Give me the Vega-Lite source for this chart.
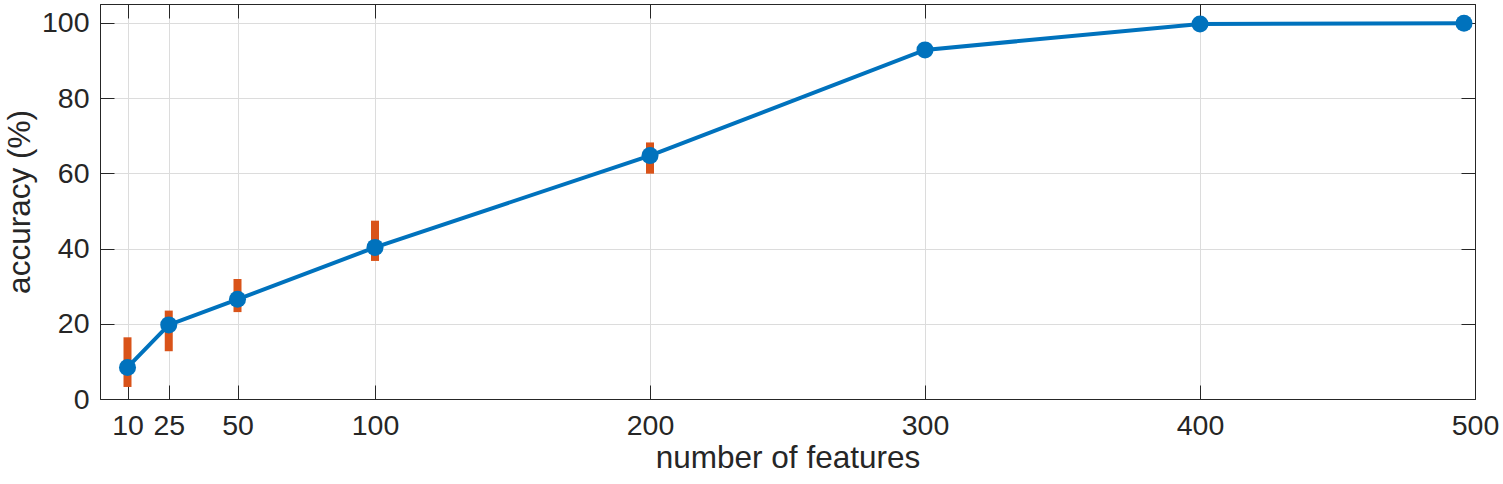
{
  "$schema": "https://vega.github.io/schema/vega-lite/v6.json",
  "autosize": {"type": "none"},
  "padding": {"left": 100, "top": 4, "right": 28, "bottom": 85},
  "width": 1375,
  "height": 395,
  "config": {
    "font": "Liberation Sans",
    "view": {"stroke": "#262626", "strokeWidth": 1},
    "axis": {
      "domainColor": "#262626",
      "tickColor": "#262626",
      "labelColor": "#262626",
      "titleColor": "#262626",
      "labelFont": "Liberation Sans",
      "titleFont": "Liberation Sans",
      "labelFontSize": 28.5,
      "titleFontSize": 31.5,
      "titleFontWeight": "normal",
      "gridColor": "#dcdcdc",
      "gridWidth": 1,
      "tickSize": -14
    }
  },
  "data": {
    "values": [
      {"features": 10, "accuracy": 8.4, "lo": 3.2, "hi": 16.4},
      {"features": 25, "accuracy": 19.7, "lo": 12.7, "hi": 23.5},
      {"features": 50, "accuracy": 26.5, "lo": 23.1, "hi": 31.9},
      {"features": 100, "accuracy": 40.3, "lo": 36.7, "hi": 47.4},
      {"features": 200, "accuracy": 64.7, "lo": 59.9, "hi": 68.2},
      {"features": 300, "accuracy": 92.8, "lo": 92.8, "hi": 92.8},
      {"features": 400, "accuracy": 99.7, "lo": 99.7, "hi": 99.7},
      {"features": 496, "accuracy": 99.9, "lo": 99.9, "hi": 99.9}
    ]
  },
  "layer": [
    {
      "mark": {"type": "rule", "color": "#D95319", "strokeWidth": 8, "strokeCap": "butt"},
      "encoding": {
        "x": {
          "field": "features", "type": "quantitative",
          "scale": {"domain": [0, 500], "nice": false, "zero": false},
          "axis": {
            "orient": "bottom",
            "values": [10, 25, 50, 100, 200, 300, 400, 500],
            "title": "number of features",
            "grid": true,
            "labelPadding": 26,
            "titlePadding": 3,
            "labelFlush": false,
            "labelOverlap": false
          }
        },
        "y": {
          "field": "lo", "type": "quantitative",
          "scale": {"domain": [0, 105], "nice": false},
          "axis": {
            "orient": "left",
            "values": [0, 20, 40, 60, 80, 100],
            "title": "accuracy (%)",
            "grid": true,
            "labelPadding": 25,
            "titlePadding": 5,
            "labelFlush": false
          }
        },
        "y2": {"field": "hi"}
      }
    },
    {
      "mark": {"type": "line", "color": "#0072BD", "strokeWidth": 4},
      "encoding": {
        "x": {
          "field": "features", "type": "quantitative",
          "scale": {"domain": [0, 500], "nice": false, "zero": false},
          "axis": {"orient": "top", "values": [10, 25, 50, 100, 200, 300, 400, 500], "labels": false, "title": null, "grid": false}
        },
        "y": {
          "field": "accuracy", "type": "quantitative",
          "scale": {"domain": [0, 105], "nice": false},
          "axis": {"orient": "right", "values": [0, 20, 40, 60, 80, 100], "labels": false, "title": null, "grid": false}
        }
      }
    },
    {
      "mark": {"type": "circle", "color": "#0072BD", "size": 290, "opacity": 1},
      "encoding": {
        "x": {"field": "features", "type": "quantitative", "axis": null},
        "y": {"field": "accuracy", "type": "quantitative", "axis": null}
      }
    }
  ],
  "resolve": {"axis": {"x": "independent", "y": "independent"}}
}
